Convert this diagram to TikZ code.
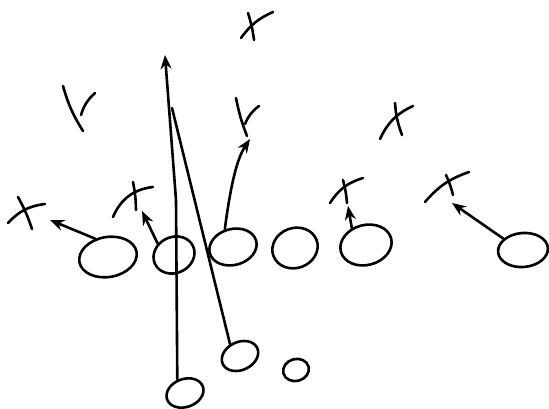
\documentclass[tikz,border=0pt]{standalone}
\usetikzlibrary{arrows.meta, shapes.geometric}
\begin{document}
\begin{tikzpicture}[x=1pt, y=-1pt,
  player/.style={draw, ellipse, line width=2.6pt, inner sep=0pt},
  route/.style={line width=2.6pt, line cap=round, -{Stealth[length=14pt, width=11pt]}},
  stroke/.style={line width=2.6pt, line cap=round}]
  \useasboundingbox (0,0) rectangle (549,409);

  % --- Offensive line and backs ---
  \node[player, minimum width=58pt, minimum height=40pt, rotate=10] (o1) at (108,257) {};
  \node[player, minimum width=42pt, minimum height=36pt, rotate=25] (o2) at (174,255) {};
  \node[player, minimum width=48pt, minimum height=36pt, rotate=15] (o3) at (233,247) {};
  \node[player, minimum width=46pt, minimum height=40pt, rotate=20] (o4) at (295,248) {};
  \node[player, minimum width=52pt, minimum height=40pt, rotate=15] (o5) at (366,245) {};
  \node[player, minimum width=50pt, minimum height=34pt, rotate=5]  (o6) at (523,250) {};
  \node[player, minimum width=38pt, minimum height=28pt, rotate=25] (o7) at (240,356) {};
  \node[player, minimum width=26pt, minimum height=22pt, rotate=15] (o8) at (296,370) {};
  \node[player, minimum width=38pt, minimum height=28pt, rotate=20] (o9) at (185,393) {};

  % --- Route ends ---
  \coordinate (t1) at (50,220);
  \coordinate (t2) at (142,211);
  \coordinate (t3) at (250,139);
  \coordinate (t4) at (165,55);
  \coordinate (m5) at (172,108);
  \coordinate (t6) at (348,206);
  \coordinate (t7) at (452,203);

  % --- Routes ---
  \draw[route] (o1.115) -- (t1);
  \draw[route] (o2.120) -- (t2);
  \draw[route] (o3.100) .. controls (230,190) and (236,160) .. (t3);
  \draw[route] (o9.100) -- (176,200) -- (t4);
  \draw[stroke] (o7.105) -- (m5);
  \draw[route] (o5.115) -- (t6);
  \draw[route] (o6.145) -- (t7);

  % --- Defenders ---
  \draw[stroke] (248,13) to[bend left=5] (254,40);
  \draw[stroke] (273,12) to[bend right=15] (241,38);
  \draw[stroke] (63,86) to[bend right=8] (83,131);
  \draw[stroke] (95,93) to[bend right=15] (81,115);
  \draw[stroke] (236,98) to[bend right=5] (247,136);
  \draw[stroke] (259,106) to[bend right=15] (245,124);
  \draw[stroke] (395,103) to[bend right=8] (402,135);
  \draw[stroke] (413,106) to[bend right=20] (380,139);
  \draw[stroke] (18,197) to[bend left=5] (32,229);
  \draw[stroke] (8,223) to[bend left=20] (45,204);
  \draw[stroke] (133,182) to[bend left=5] (136,210);
  \draw[stroke] (113,217) to[bend left=30] (153,187);
  \draw[stroke] (343,180) to[bend left=5] (347,203);
  \draw[stroke] (330,203) to[bend left=20] (363,178);
  \draw[stroke] (446,175) to[bend left=5] (453,195);
  \draw[stroke] (425,202) to[bend left=15] (469,172);
\end{tikzpicture}
\end{document}
